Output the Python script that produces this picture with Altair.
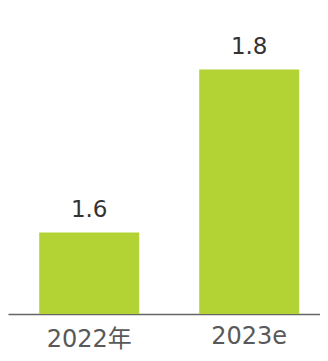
import altair as alt
import pandas as pd

categories = ["2022年", "2023e"]
values = [1.6, 1.8]
value_labels = ["1.6", "1.8"]

df = pd.DataFrame({"year": categories, "value": values, "label": value_labels})

FONT = "DejaVu Sans, Noto Sans CJK JP"

base = alt.Chart(df).encode(
    x=alt.X(
        "year:N",
        sort=categories,
        title=None,
        scale=alt.Scale(paddingInner=0.375, paddingOuter=0.1625, align=0.6),
        axis=alt.Axis(
            labelAngle=0,
            ticks=False,
            tickSize=0,
            domain=True,
            domainColor="#666666",
            domainWidth=1.5,
            labelFont=FONT,
            labelFontSize=24,
            labelColor="#595959",
            labelBaseline="alphabetic",
            labelPadding={"condition": {"test": "datum.value == '2022年'", "value": 32}, "value": 29},
            grid=False,
        ),
    ),
    y=alt.Y(
        "value:Q",
        scale=alt.Scale(domain=[1.5, 1.8755], zero=False, nice=False),
        axis=None,
    ),
)

bars = base.mark_bar(color="#b3d334", width=100, clip=True)

labels = base.mark_text(
    baseline="alphabetic", dy=-16, font=FONT, fontSize=23, color="#333333"
).encode(text="label:N")

chart = (
    alt.layer(bars, labels)
    .properties(
        width=312,
        height=306,
        autosize=alt.AutoSizeParams(type="none"),
        padding={"left": 0, "top": 0, "right": 0, "bottom": 39},
    )
    .configure(background="white", view=alt.ViewConfig(stroke=None))
)

chart.save("out.html", embed_options={"renderer": "svg", "actions": False})
